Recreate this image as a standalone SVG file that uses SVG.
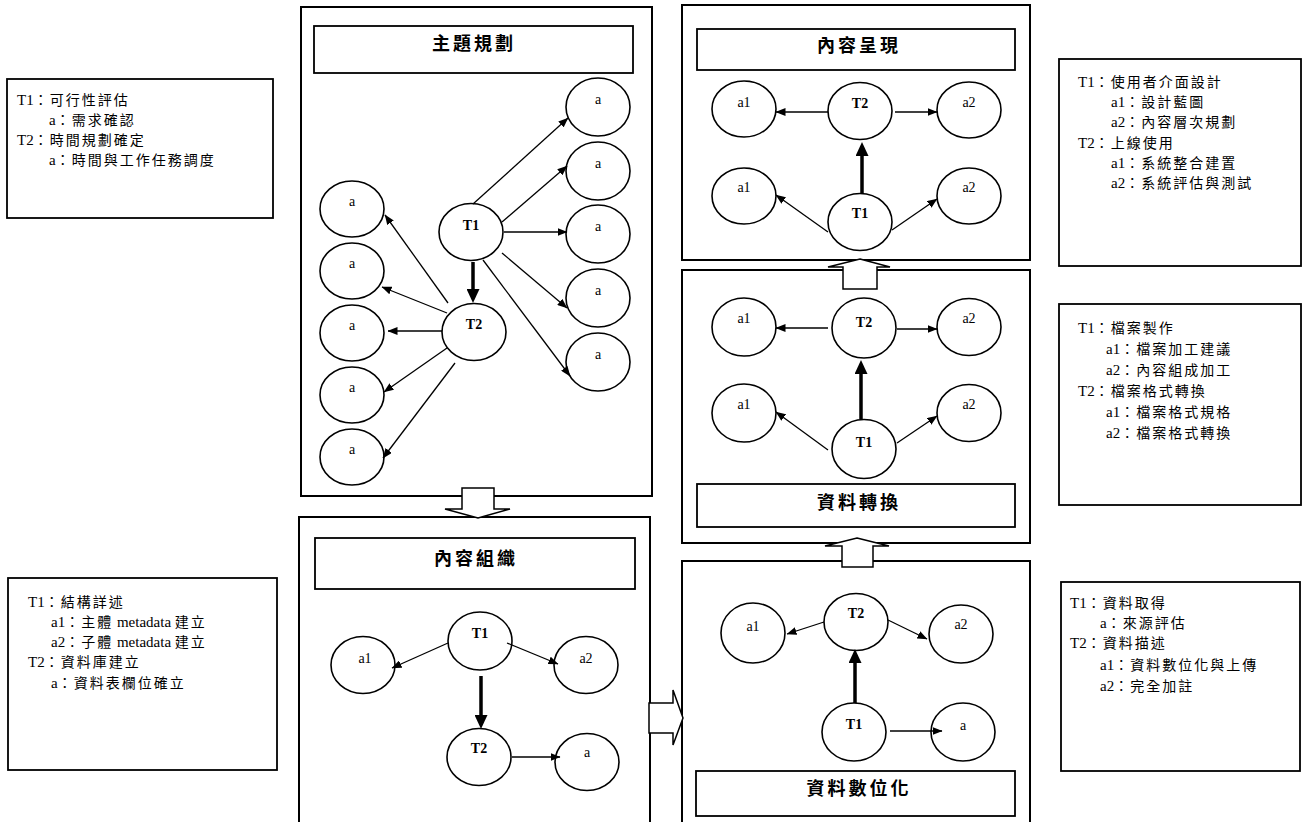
<svg xmlns="http://www.w3.org/2000/svg" width="1306" height="822" viewBox="0 0 1306 822">
<style>
  .panel{fill:#fff;stroke:#000;stroke-width:2}
  .tbox{fill:#fff;stroke:#000;stroke-width:1.8}
  .title{font-family:"Liberation Serif","Noto Sans CJK TC",serif;font-size:18px;font-weight:bold;letter-spacing:3px;text-anchor:middle;fill:#000}
  .node{fill:#fff;stroke:#000;stroke-width:1.6}
  .lbl{font-family:"Liberation Serif","Noto Sans CJK TC",serif;font-size:14px;text-anchor:middle;fill:#000}
  .lblb{font-family:"Liberation Serif","Noto Sans CJK TC",serif;font-size:14px;font-weight:bold;text-anchor:middle;fill:#000}
  .note{font-family:"Liberation Serif","Noto Sans CJK TC",serif;font-size:14px;letter-spacing:2px;fill:#000}
  .lat{font-size:15px;letter-spacing:0px}
  .thin{fill:none;stroke:#000;stroke-width:1.3;marker-end:url(#ah)}
  .thick{fill:none;stroke:#000;stroke-width:3.5;marker-end:url(#ahb)}
  .block{fill:#fff;stroke:#000;stroke-width:1.5;stroke-linejoin:miter}
</style>
<defs>
  <marker id="ah" viewBox="0 0 10 8" refX="9.5" refY="4" markerWidth="10" markerHeight="8" markerUnits="userSpaceOnUse" orient="auto">
    <path d="M0,0 L10,4 L0,8 z" fill="#000"/>
  </marker>
  <marker id="ahb" viewBox="0 0 14 13" refX="1" refY="6.5" markerWidth="14" markerHeight="13" markerUnits="userSpaceOnUse" orient="auto">
    <path d="M0,0 L14,6.5 L0,13 z" fill="#000"/>
  </marker>
</defs>

<!-- side note boxes -->
<g id="note-plan">
  <rect class="tbox" x="7" y="79" width="266" height="139"/>
  <text class="note" x="17" y="105"><tspan class="lat">T1</tspan>：可行性評估</text>
  <text class="note" x="49" y="125"><tspan class="lat">a</tspan>：需求確認</text>
  <text class="note" x="17" y="145"><tspan class="lat">T2</tspan>：時間規劃確定</text>
  <text class="note" x="49" y="165"><tspan class="lat">a</tspan>：時間與工作任務調度</text>
</g>
<g id="note-organize">
  <rect class="tbox" x="8" y="578" width="269" height="192"/>
  <text class="note" x="28" y="607"><tspan class="lat">T1</tspan>：結構詳述</text>
  <text class="note" x="51" y="627"><tspan class="lat">a1</tspan>：主體<tspan class="lat"> metadata </tspan>建立</text>
  <text class="note" x="51" y="647"><tspan class="lat">a2</tspan>：子體<tspan class="lat"> metadata </tspan>建立</text>
  <text class="note" x="28" y="667"><tspan class="lat">T2</tspan>：資料庫建立</text>
  <text class="note" x="51" y="688"><tspan class="lat">a</tspan>：資料表欄位確立</text>
</g>
<g id="note-present">
  <rect class="tbox" x="1059" y="59" width="242" height="207"/>
  <text class="note" x="1078" y="87"><tspan class="lat">T1</tspan>：使用者介面設計</text>
  <text class="note" x="1111" y="107"><tspan class="lat">a1</tspan>：設計藍圖</text>
  <text class="note" x="1111" y="127"><tspan class="lat">a2</tspan>：內容層次規劃</text>
  <text class="note" x="1078" y="148"><tspan class="lat">T2</tspan>：上線使用</text>
  <text class="note" x="1111" y="168"><tspan class="lat">a1</tspan>：系統整合建置</text>
  <text class="note" x="1111" y="188"><tspan class="lat">a2</tspan>：系統評估與測試</text>
</g>
<g id="note-convert">
  <rect class="tbox" x="1059" y="304" width="242" height="201"/>
  <text class="note" x="1078" y="333"><tspan class="lat">T1</tspan>：檔案製作</text>
  <text class="note" x="1106" y="354"><tspan class="lat">a1</tspan>：檔案加工建議</text>
  <text class="note" x="1106" y="375"><tspan class="lat">a2</tspan>：內容組成加工</text>
  <text class="note" x="1078" y="396"><tspan class="lat">T2</tspan>：檔案格式轉換</text>
  <text class="note" x="1106" y="417"><tspan class="lat">a1</tspan>：檔案格式規格</text>
  <text class="note" x="1106" y="438"><tspan class="lat">a2</tspan>：檔案格式轉換</text>
</g>
<g id="note-digitize">
  <rect class="tbox" x="1061" y="582" width="239" height="189"/>
  <text class="note" x="1070" y="608"><tspan class="lat">T1</tspan>：資料取得</text>
  <text class="note" x="1100" y="628"><tspan class="lat">a</tspan>：來源評估</text>
  <text class="note" x="1070" y="648"><tspan class="lat">T2</tspan>：資料描述</text>
  <text class="note" x="1100" y="670"><tspan class="lat">a1</tspan>：資料數位化與上傳</text>
  <text class="note" x="1100" y="691"><tspan class="lat">a2</tspan>：完全加註</text>
</g>

<!-- panels -->
<g id="panel-plan">
  <rect class="panel" x="301" y="7" width="351" height="489"/>
  <rect class="tbox" x="314" y="26" width="319" height="47"/>
  <text class="title" x="474" y="50">主題規劃</text>
</g>
<g id="panel-organize">
  <rect class="panel" x="299" y="517" width="351" height="330"/>
  <rect class="tbox" x="315" y="538" width="320" height="51"/>
  <text class="title" x="476" y="565">內容組織</text>
</g>
<g id="panel-present">
  <rect class="panel" x="682" y="5" width="348" height="255"/>
  <rect class="tbox" x="697" y="29" width="318" height="41"/>
  <text class="title" x="859" y="52">內容呈現</text>
</g>
<g id="panel-convert">
  <rect class="panel" x="682" y="270" width="348" height="273"/>
  <rect class="tbox" x="697" y="484" width="318" height="43"/>
  <text class="title" x="859" y="509">資料轉換</text>
</g>
<g id="panel-digitize">
  <rect class="panel" x="682" y="561" width="348" height="290"/>
  <rect class="tbox" x="696" y="771" width="319" height="45"/>
  <text class="title" x="859" y="795">資料數位化</text>
</g>

<!-- block arrows between stages -->
<g id="flow-arrows">
  <polygon class="block" points="462,488 494,488 494,509 510,509 478,518 445,509 462,509"/>
  <polygon class="block" points="649,703 673,703 673,690 683,718 673,745 673,733 649,733"/>
  <polygon class="block" points="857,538 889,546 873,546 873,567 842,567 842,546 825,546"/>
  <polygon class="block" points="860,259 890,267 877,267 877,289 843,289 843,267 828,267"/>
</g>

<!-- nodes: panel 主題規劃 -->
<g id="p1-T1"><ellipse class="node" cx="471" cy="232" rx="32" ry="28.5"/><text class="lblb" x="471" y="230">T1</text></g>
<g id="p1-T2"><ellipse class="node" cx="474" cy="332" rx="32" ry="28.5"/><text class="lblb" x="474" y="329">T2</text></g>
<g id="p1-r1"><ellipse class="node" cx="598" cy="107" rx="32" ry="29"/><text class="lbl" x="598" y="104">a</text></g>
<g id="p1-r2"><ellipse class="node" cx="598" cy="171" rx="32" ry="29"/><text class="lbl" x="598" y="168">a</text></g>
<g id="p1-r3"><ellipse class="node" cx="598" cy="234" rx="32" ry="29"/><text class="lbl" x="598" y="231">a</text></g>
<g id="p1-r4"><ellipse class="node" cx="598" cy="298" rx="32" ry="29"/><text class="lbl" x="598" y="295">a</text></g>
<g id="p1-r5"><ellipse class="node" cx="598" cy="362" rx="32" ry="29"/><text class="lbl" x="598" y="359">a</text></g>
<g id="p1-l1"><ellipse class="node" cx="352" cy="209" rx="32" ry="28"/><text class="lbl" x="352" y="206">a</text></g>
<g id="p1-l2"><ellipse class="node" cx="352" cy="271" rx="32" ry="28"/><text class="lbl" x="352" y="268">a</text></g>
<g id="p1-l3"><ellipse class="node" cx="352" cy="333" rx="32" ry="28"/><text class="lbl" x="352" y="330">a</text></g>
<g id="p1-l4"><ellipse class="node" cx="352" cy="395" rx="32" ry="28"/><text class="lbl" x="352" y="392">a</text></g>
<g id="p1-l5"><ellipse class="node" cx="352" cy="457" rx="32" ry="28"/><text class="lbl" x="352" y="454">a</text></g>

<!-- nodes: panel 內容組織 -->
<g id="p2-T1"><ellipse class="node" cx="480" cy="641" rx="32" ry="29"/><text class="lblb" x="480" y="638">T1</text></g>
<g id="p2-a1"><ellipse class="node" cx="363" cy="665" rx="32" ry="28.5"/><text class="lbl" x="365" y="663">a1</text></g>
<g id="p2-a2"><ellipse class="node" cx="586" cy="665" rx="32" ry="28.5"/><text class="lbl" x="586" y="663">a2</text></g>
<g id="p2-T2"><ellipse class="node" cx="479" cy="757" rx="32" ry="28.5"/><text class="lblb" x="479" y="753">T2</text></g>
<g id="p2-a"><ellipse class="node" cx="587" cy="762" rx="32" ry="28.5"/><text class="lbl" x="587" y="757">a</text></g>

<!-- nodes: panel 內容呈現 -->
<g id="p3-a1t"><ellipse class="node" cx="744" cy="109" rx="32" ry="28"/><text class="lbl" x="744" y="107">a1</text></g>
<g id="p3-T2"><ellipse class="node" cx="860" cy="111" rx="32" ry="28.5"/><text class="lblb" x="860" y="108">T2</text></g>
<g id="p3-a2t"><ellipse class="node" cx="969" cy="110" rx="32" ry="28"/><text class="lbl" x="969" y="107">a2</text></g>
<g id="p3-a1b"><ellipse class="node" cx="744" cy="196" rx="32" ry="28"/><text class="lbl" x="744" y="192">a1</text></g>
<g id="p3-T1"><ellipse class="node" cx="860" cy="222" rx="32" ry="28.5"/><text class="lblb" x="860" y="218">T1</text></g>
<g id="p3-a2b"><ellipse class="node" cx="969" cy="196" rx="32" ry="28"/><text class="lbl" x="969" y="192">a2</text></g>

<!-- nodes: panel 資料轉換 -->
<g id="p5-a1t"><ellipse class="node" cx="744" cy="327" rx="32" ry="29"/><text class="lbl" x="744" y="323">a1</text></g>
<g id="p5-T2"><ellipse class="node" cx="864" cy="328" rx="32" ry="30"/><text class="lblb" x="864" y="327">T2</text></g>
<g id="p5-a2t"><ellipse class="node" cx="969" cy="327" rx="32" ry="28.5"/><text class="lbl" x="969" y="323">a2</text></g>
<g id="p5-a1b"><ellipse class="node" cx="744" cy="413" rx="32" ry="29"/><text class="lbl" x="744" y="409">a1</text></g>
<g id="p5-T1"><ellipse class="node" cx="864" cy="449" rx="32" ry="29.5"/><text class="lblb" x="864" y="447">T1</text></g>
<g id="p5-a2b"><ellipse class="node" cx="969" cy="413" rx="32" ry="28.5"/><text class="lbl" x="969" y="409">a2</text></g>

<!-- nodes: panel 資料數位化 -->
<g id="p4-a1"><ellipse class="node" cx="753" cy="633" rx="32" ry="30"/><text class="lbl" x="753" y="631">a1</text></g>
<g id="p4-T2"><ellipse class="node" cx="856" cy="622" rx="32" ry="28.5"/><text class="lblb" x="856" y="618">T2</text></g>
<g id="p4-a2"><ellipse class="node" cx="961" cy="634" rx="32" ry="29"/><text class="lbl" x="961" y="629">a2</text></g>
<g id="p4-T1"><ellipse class="node" cx="854" cy="732" rx="32" ry="29"/><text class="lblb" x="854" y="729">T1</text></g>
<g id="p4-a"><ellipse class="node" cx="963" cy="732" rx="32" ry="29"/><text class="lbl" x="963" y="730">a</text></g>

<!-- connectors -->
<g id="connectors">
  <!-- panel 主題規劃 -->
  <line class="thin" x1="473" y1="204" x2="568" y2="118"/>
  <line class="thin" x1="502" y1="222" x2="567" y2="166"/>
  <line class="thin" x1="504" y1="232" x2="567" y2="232"/>
  <line class="thin" x1="502" y1="253" x2="567" y2="308"/>
  <line class="thin" x1="483" y1="260" x2="570" y2="376"/>
  <line class="thin" x1="448" y1="303" x2="385" y2="215"/>
  <line class="thin" x1="447" y1="313" x2="382" y2="287"/>
  <line class="thin" x1="442" y1="331" x2="388" y2="331"/>
  <line class="thin" x1="447" y1="348" x2="384" y2="392"/>
  <line class="thin" x1="455" y1="363" x2="383" y2="458"/>
  <line class="thick" x1="473" y1="262" x2="473" y2="290"/>
  <!-- panel 內容組織 -->
  <line class="thin" x1="448" y1="643" x2="392" y2="668"/>
  <line class="thin" x1="507" y1="643" x2="558" y2="664"/>
  <line class="thick" x1="481" y1="676" x2="481" y2="716"/>
  <line class="thin" x1="512" y1="757" x2="560" y2="757"/>
  <!-- panel 內容呈現 -->
  <line class="thin" x1="828" y1="112" x2="776" y2="112"/>
  <line class="thin" x1="895" y1="112" x2="937" y2="112"/>
  <line class="thick" x1="862" y1="193" x2="862" y2="155"/>
  <line class="thin" x1="828" y1="232" x2="776" y2="195"/>
  <line class="thin" x1="892" y1="230" x2="937" y2="199"/>
  <!-- panel 資料轉換 -->
  <line class="thin" x1="828" y1="328" x2="776" y2="328"/>
  <line class="thin" x1="897" y1="329" x2="937" y2="329"/>
  <line class="thick" x1="861" y1="419" x2="861" y2="373"/>
  <line class="thin" x1="828" y1="450" x2="776" y2="412"/>
  <line class="thin" x1="897" y1="443" x2="937" y2="416"/>
  <!-- panel 資料數位化 -->
  <line class="thin" x1="824" y1="622" x2="787" y2="634"/>
  <line class="thin" x1="888" y1="620" x2="927" y2="639"/>
  <line class="thick" x1="855" y1="703" x2="855" y2="662"/>
  <line class="thin" x1="890" y1="731" x2="942" y2="731"/>
</g>
</svg>
